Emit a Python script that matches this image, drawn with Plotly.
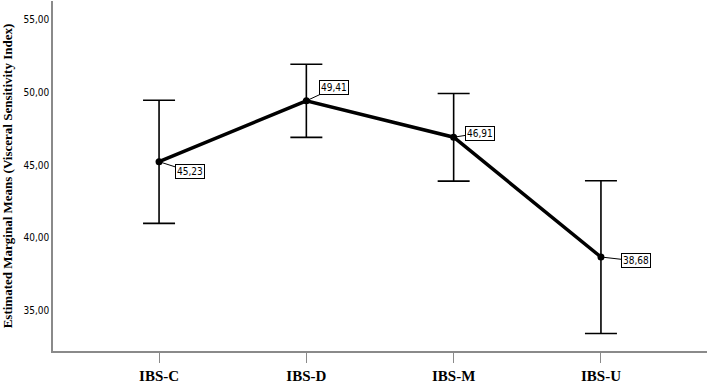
import plotly.graph_objects as go

categories = ["IBS-C", "IBS-D", "IBS-M", "IBS-U"]
means = [45.23, 49.41, 46.91, 38.68]
err_plus = [4.22, 2.51, 3.00, 5.24]
err_minus = [4.24, 2.51, 3.02, 5.26]
labels = ["45,23", "49,41", "46,91", "38,68"]
label_offsets = [(31, 10), (28, -13), (26, -4), (35, 4)]
ytick_vals = [35, 40, 45, 50, 55]
ytick_text = ["35,00", "40,00", "45,00", "50,00", "55,00"]

num_font = "Tahoma, 'DejaVu Sans Condensed', 'Liberation Sans Narrow', sans-serif"
serif = "'Times New Roman', 'Liberation Serif', serif"

fig = go.Figure()
fig.add_trace(go.Scatter(
    x=categories, y=means, mode="lines+markers",
    line=dict(color="black", width=3.5),
    marker=dict(color="black", size=7),
    error_y=dict(type="data", symmetric=False, array=err_plus, arrayminus=err_minus,
                 color="black", thickness=1.6, width=16),
    showlegend=False, hoverinfo="skip",
))

for c, m, t, (ax, ay) in zip(categories, means, labels, label_offsets):
    fig.add_annotation(
        x=c, y=m, text=t, showarrow=True, arrowhead=0, arrowwidth=1, arrowcolor="black",
        ax=ax, ay=ay, font=dict(family=num_font, size=10, color="black"),
        bordercolor="black", borderwidth=1, borderpad=1, bgcolor="white",
    )

fig.update_layout(
    width=709, height=385,
    margin=dict(l=53, r=2, t=1, b=31),
    paper_bgcolor="white", plot_bgcolor="white",
)
fig.update_xaxes(
    type="category", range=[-0.72, 3.72],
    showline=True, linecolor="#8a8a8a", linewidth=1.5,
    ticks="outside", ticklen=10, tickcolor="#8a8a8a", tickwidth=1,
    showgrid=False, zeroline=False,
    tickfont=dict(family=serif, size=15, color="black"),
    tickprefix="<b>", ticksuffix="</b>",
)
fig.update_yaxes(
    range=[32.22, 56.27],
    tickvals=ytick_vals, ticktext=ytick_text,
    showline=True, linecolor="#8a8a8a", linewidth=1.5,
    ticks="", showgrid=False, zeroline=False,
    tickfont=dict(family=num_font, size=10, color="black"),
    title=dict(text="<b>Estimated Marginal Means (Visceral Sensitivity Index)</b>",
               font=dict(family=serif, size=13, color="black"), standoff=8),
)

fig.write_html("out.html")
